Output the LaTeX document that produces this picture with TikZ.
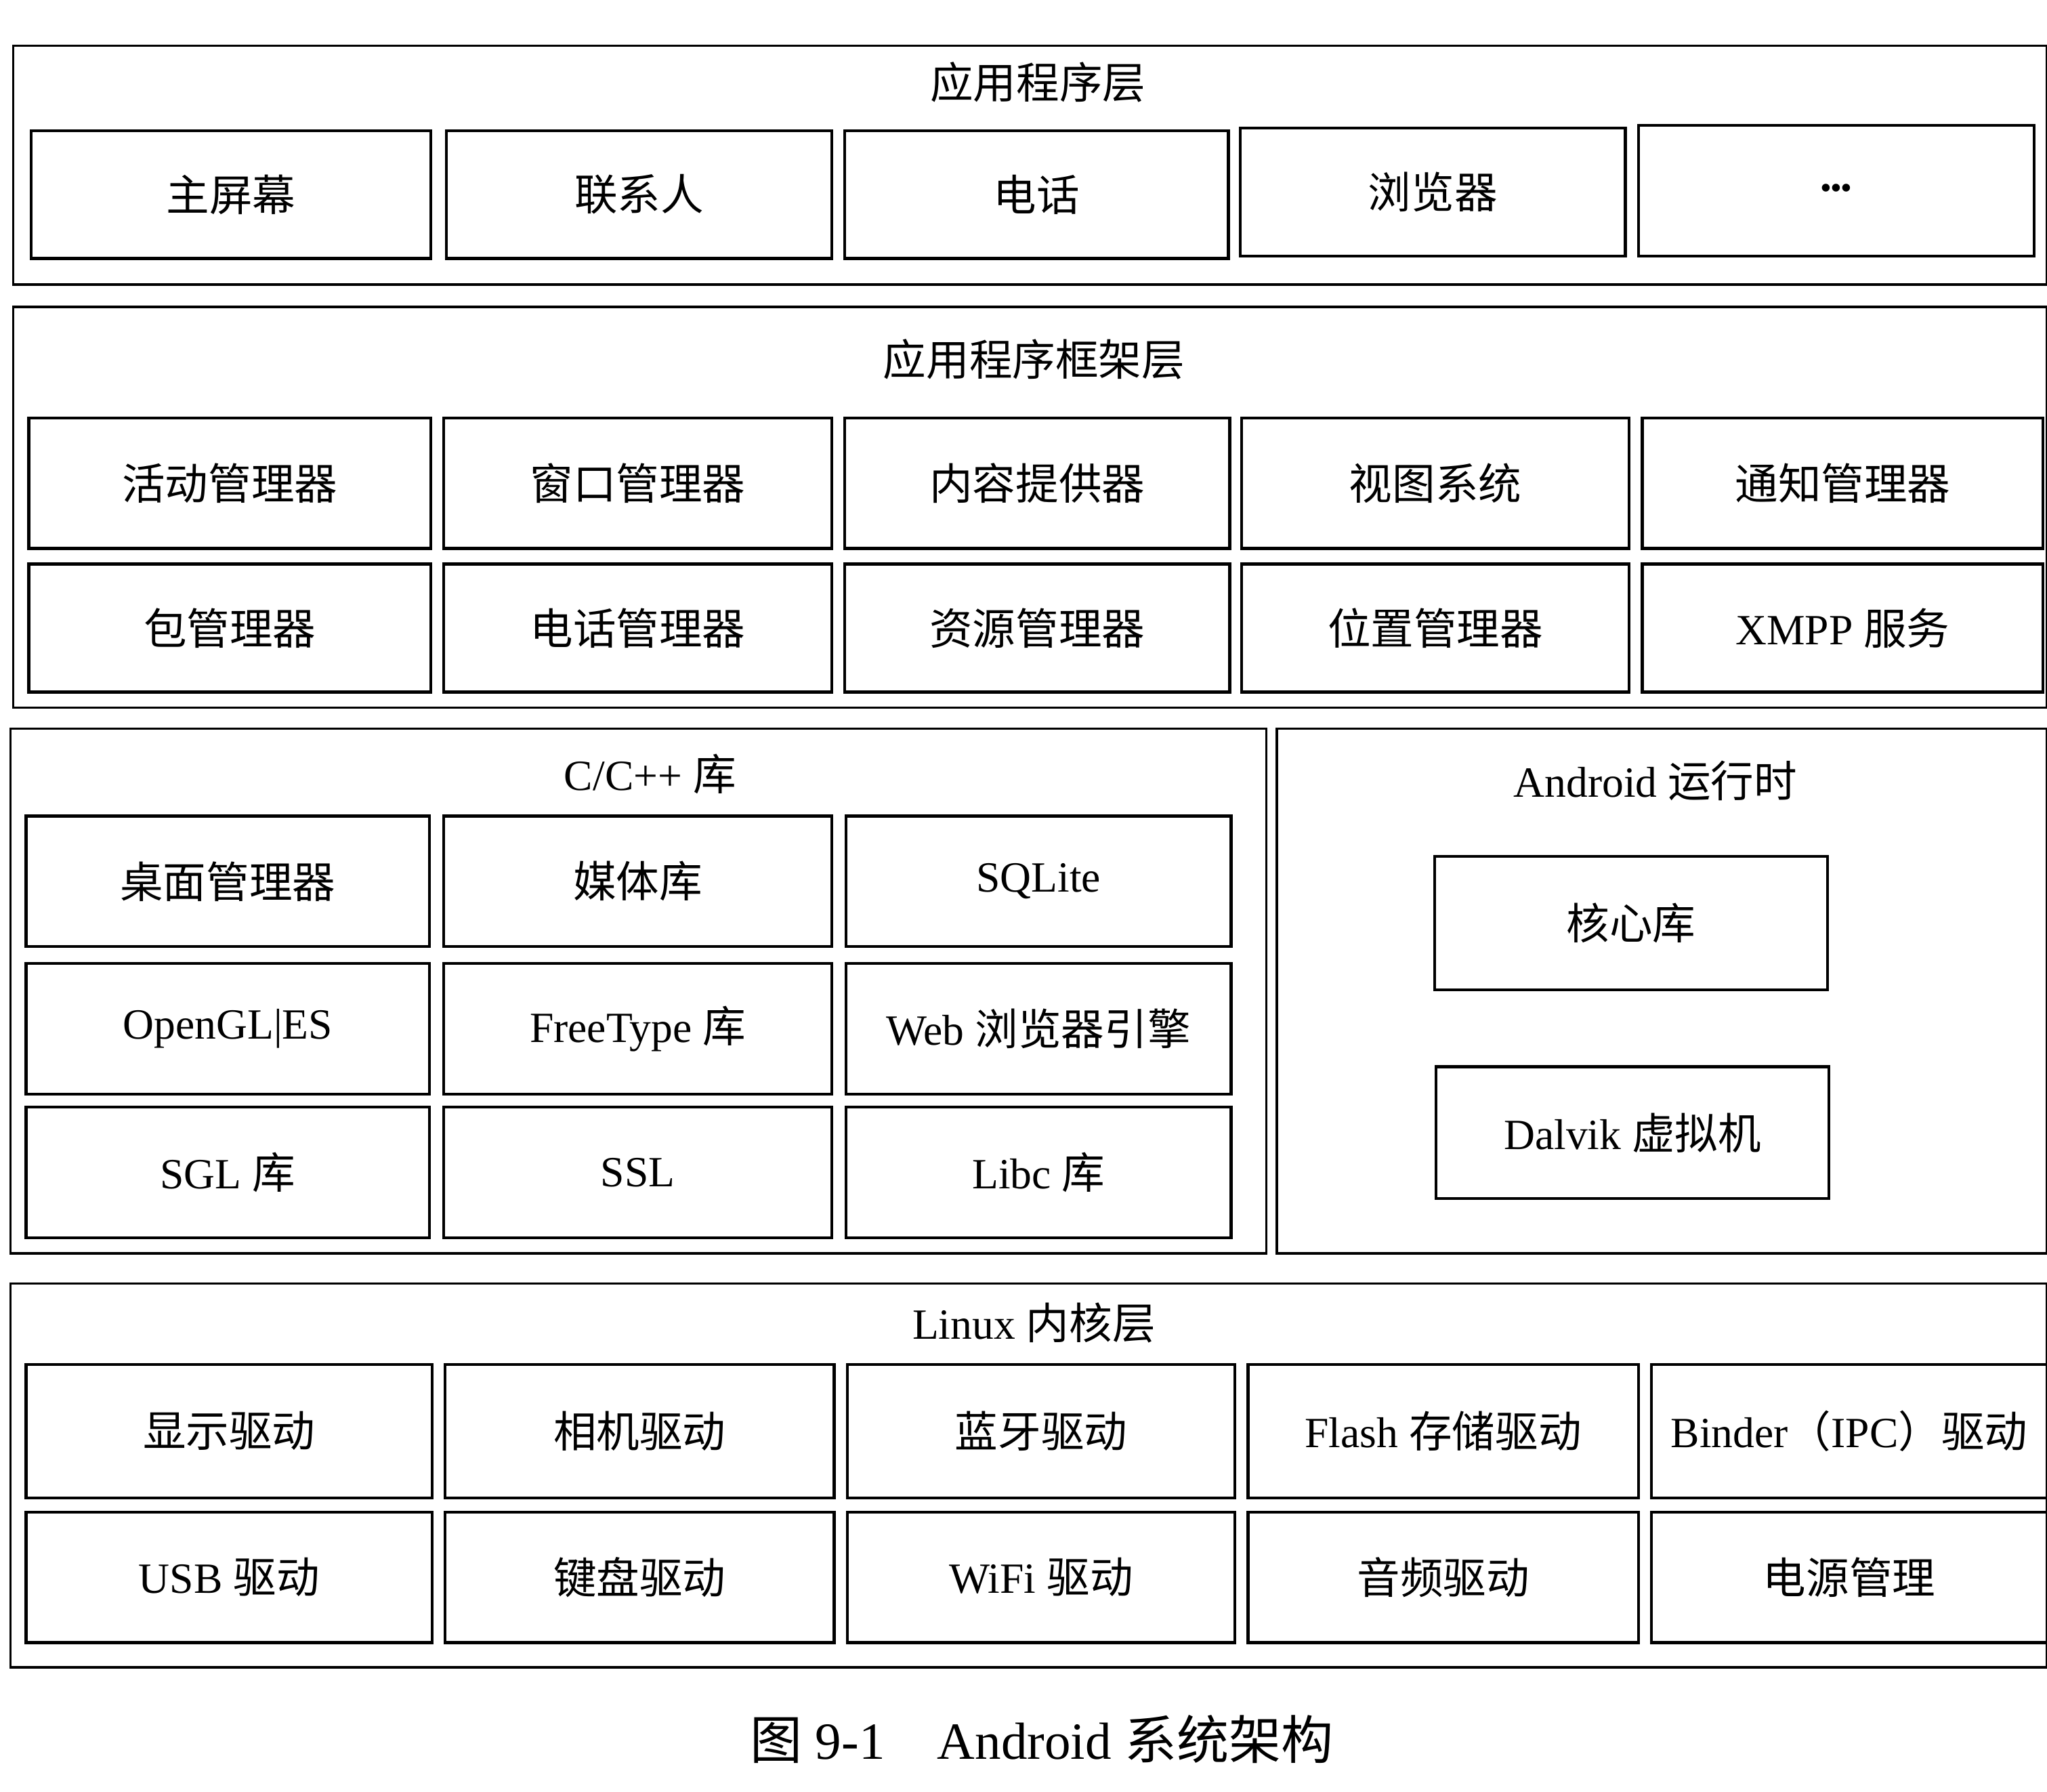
\documentclass[tikz,border=0pt]{standalone}
\usepackage{fontspec}
\setmainfont{Liberation Serif}
\newfontfamily\cjk{Noto Sans CJK SC}[BoldFont={Noto Sans CJK SC Bold}]
\begin{document}
\begin{tikzpicture}[x=1pt,y=-1pt,
  inner/.style={draw=black,line width=2.2pt},
  outer/.style={draw=black,line width=1.8pt},
  lbl/.style={font=\fontsize{33}{36}\selectfont}]
\useasboundingbox (0,0) rectangle (1568,1372);
\newcommand{\bx}[6]{\draw[inner] (#2,#3) rectangle (#4,#5);
  \node[lbl] (#1) at ({(#2+#4)/2},{(#3+#5)/2}) {#6};}
% layer 1
\draw[outer] (10,35) rectangle (1568,218);
\node[lbl] (t1) at (795,63) {\cjk 应用程序层};
\bx{a1}{24}{100}{330}{198}{\cjk 主屏幕}
\bx{a2}{342}{100}{637}{198}{\cjk 联系人}
\bx{a3}{647}{100}{941}{198}{\cjk 电话}
\bx{a4}{950}{98}{1245}{196}{\cjk 浏览器}
\bx{a5}{1255}{96}{1558}{196}{{\fontsize{22}{24}\selectfont\bfseries •••}}
% layer 2
\draw[outer] (10,235) rectangle (1568,542);
\node[lbl] (t2) at (792,275) {\cjk 应用程序框架层};
\bx{b1}{22}{320}{330}{420}{\cjk 活动管理器}
\bx{b2}{340}{320}{637}{420}{\cjk 窗口管理器}
\bx{b3}{647}{320}{942}{420}{\cjk 内容提供器}
\bx{b4}{951}{320}{1248}{420}{\cjk 视图系统}
\bx{b5}{1258}{320}{1565}{420}{\cjk 通知管理器}
\bx{b6}{22}{432}{330}{530}{\cjk 包管理器}
\bx{b7}{340}{432}{637}{530}{\cjk 电话管理器}
\bx{b8}{647}{432}{942}{530}{\cjk 资源管理器}
\bx{b9}{951}{432}{1248}{530}{\cjk 位置管理器}
\bx{b10}{1258}{432}{1565}{530}{XMPP {\cjk 服务}}
% C/C++
\draw[outer] (8,558) rectangle (970,960);
\node[lbl] (t3) at (498,593) {C/C++ {\cjk 库}};
\bx{c1}{20}{625}{329}{725}{\cjk 桌面管理器}
\bx{c2}{340}{625}{637}{725}{\cjk 媒体库}
\bx{c3}{648}{625}{943}{725}{SQLite}
\bx{c4}{20}{738}{329}{838}{OpenGL|ES}
\bx{c5}{340}{738}{637}{838}{FreeType {\cjk 库}}
\bx{c6}{648}{738}{943}{838}{Web {\cjk 浏览器引擎}}
\bx{c7}{20}{848}{329}{948}{SGL {\cjk 库}}
\bx{c8}{340}{848}{637}{948}{SSL}
\bx{c9}{648}{848}{943}{948}{Libc {\cjk 库}}
% runtime
\draw[outer] (978,558) rectangle (1568,960);
\node[lbl] (t4) at (1268,598) {Android {\cjk 运行时}};
\bx{r1}{1099}{656}{1400}{758}{\cjk 核心库}
\bx{r2}{1100}{817}{1401}{918}{Dalvik {\cjk 虚拟机}}
% linux
\draw[outer] (8,983) rectangle (1568,1277);
\node[lbl] (t5) at (792,1013) {Linux {\cjk 内核层}};
\bx{d1}{20}{1045}{331}{1147}{\cjk 显示驱动}
\bx{d2}{341}{1045}{639}{1147}{\cjk 相机驱动}
\bx{d3}{649}{1045}{946}{1147}{\cjk 蓝牙驱动}
\bx{d4}{956}{1045}{1255}{1147}{Flash {\cjk 存储驱动}}
\bx{d5}{1265}{1045}{1568}{1147}{Binder{\cjk （}IPC{\cjk ）驱动}}
\bx{d6}{20}{1158}{331}{1258}{USB {\cjk 驱动}}
\bx{d7}{341}{1158}{639}{1258}{\cjk 键盘驱动}
\bx{d8}{649}{1158}{946}{1258}{WiFi {\cjk 驱动}}
\bx{d9}{956}{1158}{1255}{1258}{\cjk 音频驱动}
\bx{d10}{1265}{1158}{1568}{1258}{\cjk 电源管理}
\node[font=\fontsize{40}{44}\selectfont] (cap) at (798,1332) {{\cjk 图} 9-1\quad Android {\cjk 系统架构}};
\end{tikzpicture}
\end{document}
